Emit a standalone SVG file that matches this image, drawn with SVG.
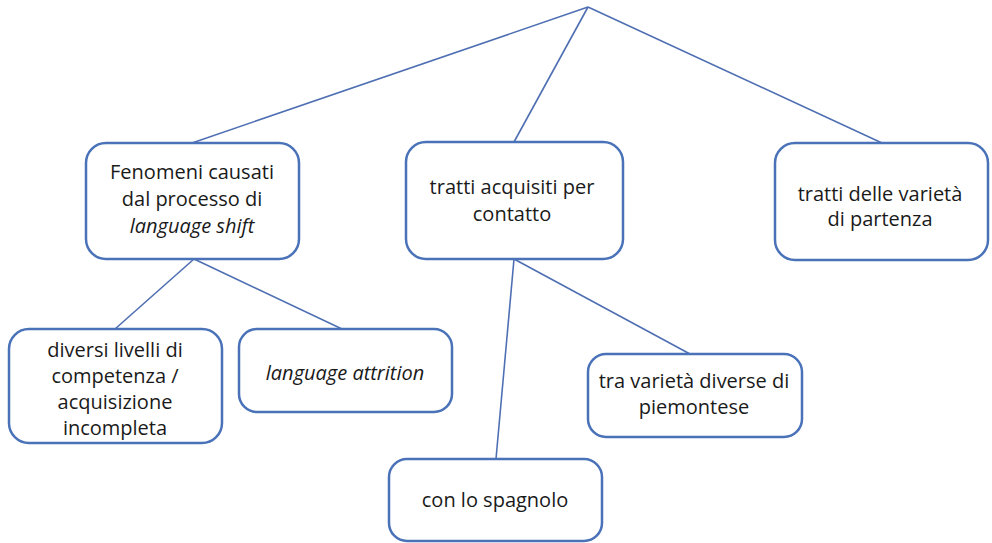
<svg xmlns="http://www.w3.org/2000/svg" width="992" height="543" viewBox="0 0 992 543">
<style>
.box{fill:#ffffff;stroke:#4a72b8;stroke-width:2.5}
.t{font-family:"Open Sans","Liberation Sans",sans-serif;font-size:20px;fill:#1a1a1a;text-anchor:middle}
.i{font-style:italic}
.c{stroke:#4f6fb3;stroke-width:1.6;fill:none}
</style>
<rect width="992" height="543" fill="#ffffff"/>
<g id="connectors">
<line class="c" x1="588" y1="7" x2="192" y2="143"/>
<line class="c" x1="588" y1="7" x2="514" y2="142"/>
<line class="c" x1="588" y1="7" x2="882" y2="143"/>
<line class="c" x1="194" y1="259" x2="115" y2="329"/>
<line class="c" x1="194" y1="259" x2="342" y2="329"/>
<line class="c" x1="514" y1="259" x2="496" y2="459"/>
<line class="c" x1="514" y1="259" x2="690" y2="354"/>
</g>
<g id="n1">
<rect class="box" x="86" y="143" width="213" height="116" rx="20"/>
<text class="t" x="192" y="179">Fenomeni causati</text>
<text class="t" x="192" y="206">dal processo di</text>
<text class="t i" x="192" y="233">language shift</text>
</g>
<g id="n2">
<rect class="box" x="406" y="142" width="217" height="117" rx="20"/>
<text class="t" x="512" y="194">tratti acquisiti per</text>
<text class="t" x="512" y="221">contatto</text>
</g>
<g id="n3">
<rect class="box" x="775" y="143" width="213" height="117" rx="20"/>
<text class="t" x="880" y="201">tratti delle varietà</text>
<text class="t" x="880" y="226">di partenza</text>
</g>
<g id="n4">
<rect class="box" x="9" y="329" width="213" height="114" rx="20"/>
<text class="t" x="115" y="357">diversi livelli di</text>
<text class="t" x="115" y="383">competenza /</text>
<text class="t" x="115" y="409">acquisizione</text>
<text class="t" x="115" y="435">incompleta</text>
</g>
<g id="n5">
<rect class="box" x="239" y="329" width="213" height="83" rx="18"/>
<text class="t i" x="345" y="380">language attrition</text>
</g>
<g id="n6">
<rect class="box" x="389" y="459" width="213" height="82" rx="18"/>
<text class="t" x="495" y="507">con lo spagnolo</text>
</g>
<g id="n7">
<rect class="box" x="588" y="354" width="214" height="83" rx="18"/>
<text class="t" x="694" y="388">tra varietà diverse di</text>
<text class="t" x="694" y="414">piemontese</text>
</g>
</svg>
